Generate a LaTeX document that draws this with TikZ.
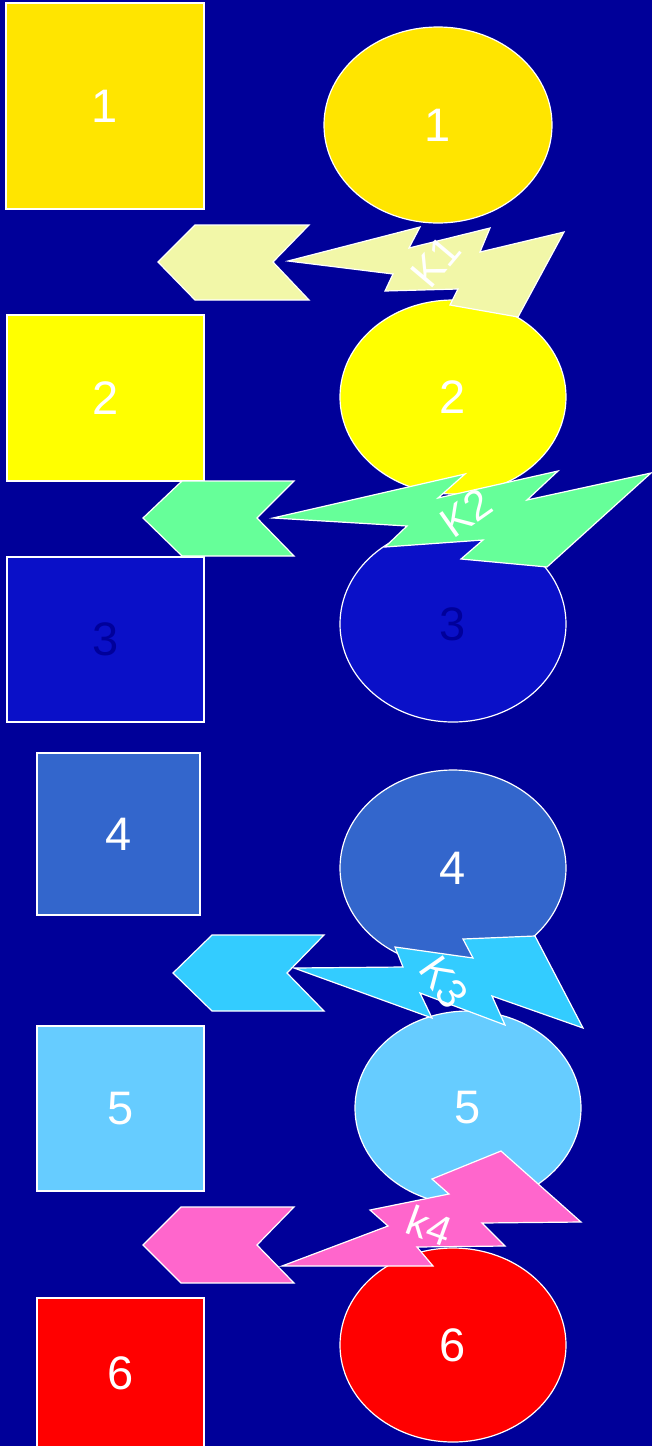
\documentclass[tikz,border=0pt]{standalone}
\usepackage{fontspec}
\setmainfont{Liberation Sans}
\usetikzlibrary{shapes.geometric}
\definecolor{bg}{HTML}{000099}
\definecolor{cA}{HTML}{FFE500}
\definecolor{cB}{HTML}{FFFF00}
\definecolor{cC}{HTML}{0A10C8}
\definecolor{cD}{HTML}{3366CC}
\definecolor{cE}{HTML}{66CCFF}
\definecolor{cF}{HTML}{FF0000}
\definecolor{sA}{HTML}{F2F7A8}
\definecolor{sB}{HTML}{66FF99}
\definecolor{sC}{HTML}{33CCFF}
\definecolor{sD}{HTML}{FF66CC}
\definecolor{darknum}{HTML}{00009A}
\begin{document}
\begin{tikzpicture}[x=1pt,y=-1pt,
  box/.style={draw=white, line width=1.5pt, inner sep=0pt, rectangle, text=white,
    font=\fontsize{47}{50}\selectfont},
  oval/.style={ellipse, draw=white, line width=1.2pt, inner sep=0pt, text=white,
    minimum width=226pt, minimum height=195pt, font=\fontsize{47}{50}\selectfont},
  shp/.style={draw=white, line width=1.2pt, line join=miter},
  lab/.style={text=white, inner sep=0pt, font=\fontsize{42}{44}\selectfont}]
\fill[bg] (0,0) rectangle (652,1446);
\useasboundingbox (0,0) rectangle (652,1446);
% squares
\node[box, fill=cA, minimum width=198pt, minimum height=206pt] (r1) at (105,106) {1};
\node[box, fill=cB, minimum width=197pt, minimum height=166pt] (r2) at (105.5,398) {2};
\node[box, fill=cC, minimum width=197pt, minimum height=165pt, text=darknum] (r3) at (105.5,639.5) {3};
\node[box, fill=cD, minimum width=163pt, minimum height=162pt] (r4) at (118.5,834) {4};
\node[box, fill=cE, minimum width=167pt, minimum height=165pt] (r5) at (120.5,1108.5) {5};
\node[box, fill=cF, minimum width=167pt, minimum height=150pt] (r6) at (120.5,1373) {6};
% ellipses
\node[oval, fill=cA, minimum width=228pt, minimum height=196pt] (e1) at (438,125) {1};
\node[oval, fill=cB, minimum height=194pt] (e2) at (453,397) {2};
\node[oval, fill=cC, minimum height=196pt, text=darknum] (e3) at (453,624) {3};
\node[oval, fill=cD, minimum height=196pt] (e4) at (453,868) {4};
\node[oval, fill=cE, minimum height=194pt] (e5) at (468,1108) {5};
\node[oval, fill=cF, minimum height=194pt] (e6) at (453,1345) {6};
% chevrons
\draw[shp, fill=sA] (158,262) -- (195,225) -- (309,225) -- (273,262) -- (309,300) -- (195,300) -- cycle;
\draw[shp, fill=sB] (143,518) -- (182,481) -- (294,481) -- (257,518) -- (294,556) -- (182,556) -- cycle;
\draw[shp, fill=sC] (173,973) -- (212,935) -- (324,935) -- (287,973) -- (324,1011) -- (212,1011) -- cycle;
\draw[shp, fill=sD] (143,1245) -- (181,1207) -- (294,1207) -- (257,1245) -- (294,1283) -- (181,1283) -- cycle;
% bolts
\draw[shp, fill=sA] (288,261) -- (420,227) -- (409,248) -- (490,228) -- (480,252) -- (564,232)
  -- (518,317) -- (450,305) -- (458,289) -- (385,291) -- (393,274) -- cycle;
\draw[shp, fill=sB] (273,518) -- (465,474) -- (438,498) -- (558,471) -- (527,500) -- (651,473)
  -- (547,567) -- (461,559) -- (483,540) -- (385,547) -- (407,526) -- cycle;
\draw[shp, fill=sC] (294,968) -- (403,967) -- (395,947) -- (473,958) -- (463,939) -- (535,936)
  -- (583,1028) -- (492,996) -- (505,1025) -- (420,993) -- (432,1018) -- cycle;
\draw[shp, fill=sD] (282,1266) -- (388,1226) -- (370,1210) -- (449,1194) -- (432,1179) -- (501,1151)
  -- (581,1222) -- (482,1223) -- (505,1246) -- (417,1247) -- (433,1266) -- cycle;
% labels
\node[lab, rotate=50] (k1) at (436,262) {K1};
\node[lab, rotate=35] (k2) at (466,513) {K2};
\node[lab, rotate=-55] (k3) at (444,982) {K3};
\node[lab, rotate=-20] (k4) at (430,1226) {k4};
\end{tikzpicture}
\end{document}
